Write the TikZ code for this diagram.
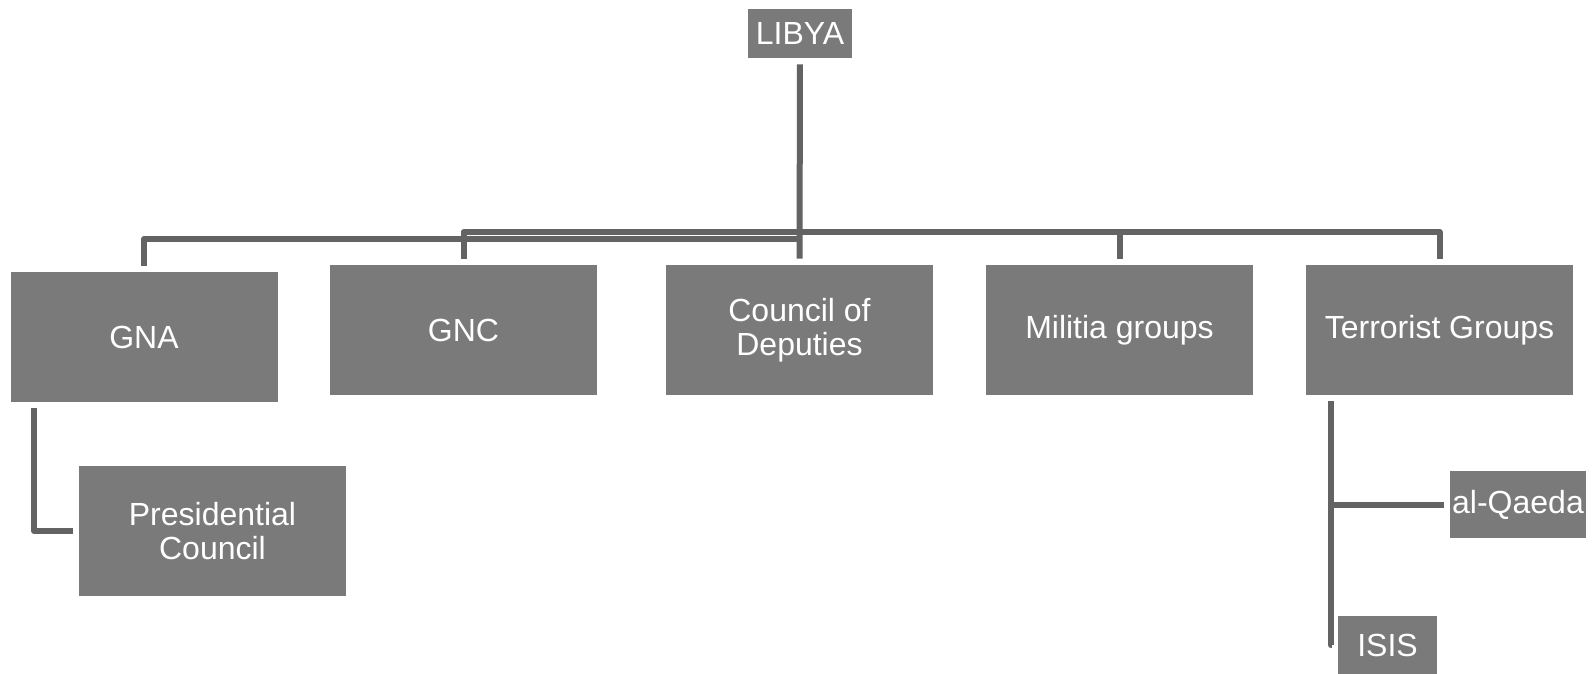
\documentclass[tikz,border=0pt]{standalone}
\usepackage{fontspec}
\setmainfont{Liberation Sans}
\usepackage{tikz}
\usetikzlibrary{positioning}

\definecolor{boxgray}{HTML}{7A7A7A}
\definecolor{linegray}{HTML}{636363}

\begin{document}
\begin{tikzpicture}[x=0.5pt, y=-0.5pt,
    box/.style={fill=boxgray, text=white, inner sep=0pt, align=center,
        font=\fontsize{16}{17.2}\selectfont},
    bigbox/.style={box, minimum width=133.5pt, minimum height=65pt},
    link/.style={draw=linegray, line width=3pt, line join=round,
        shorten <=3pt, shorten >=3pt}]
    \useasboundingbox (0,0) rectangle (1592,674);

    % Top
    \node[box, minimum width=52pt, minimum height=24.5pt] (libya) at (800,33.5) {LIBYA};

    % Boxes
    \node[bigbox] (gna) at (144,337) {GNA};
    \node[bigbox] (gnc) at (463.5,330) {GNC};
    \node[bigbox] (council) at (799.5,330) {Council of\\Deputies};
    \node[bigbox] (militia) at (1119.5,330) {Militia groups};
    \node[bigbox] (terror) at (1439.5,330) {Terrorist Groups};

    % Sub boxes
    \node[bigbox] (presid) at (212.5,531) {Presidential\\Council};
    \node[box, minimum width=68pt, minimum height=33.5pt] (qaeda) at (1518,504.5) {al-Qaeda};
    \node[box, minimum width=49.5pt, minimum height=29.5pt] (isis) at (1387.5,645) {ISIS};

    % Connectors
    \coordinate (bar) at (800,232);
    \coordinate (gnabar) at (800,239);
    \draw[link] (libya.south) -- (council.north);
    \draw[link, shorten >=0pt] (gnc.north) |- (bar);
    \draw[link, shorten <=0pt] (bar) -| (terror.north);
    \draw[link, shorten >=0pt] (militia.north) |- (bar);
    \draw[link, shorten >=0pt] (gna.north) |- (gnabar);
    \draw[link] ([xshift=12pt]gna.south west) |- (presid.west);
    \draw[link] ([xshift=12.5pt]terror.south west) |- (qaeda.west);
    \draw[link] ([xshift=12.5pt]terror.south west) |- (isis.west);

\end{tikzpicture}
\end{document}
